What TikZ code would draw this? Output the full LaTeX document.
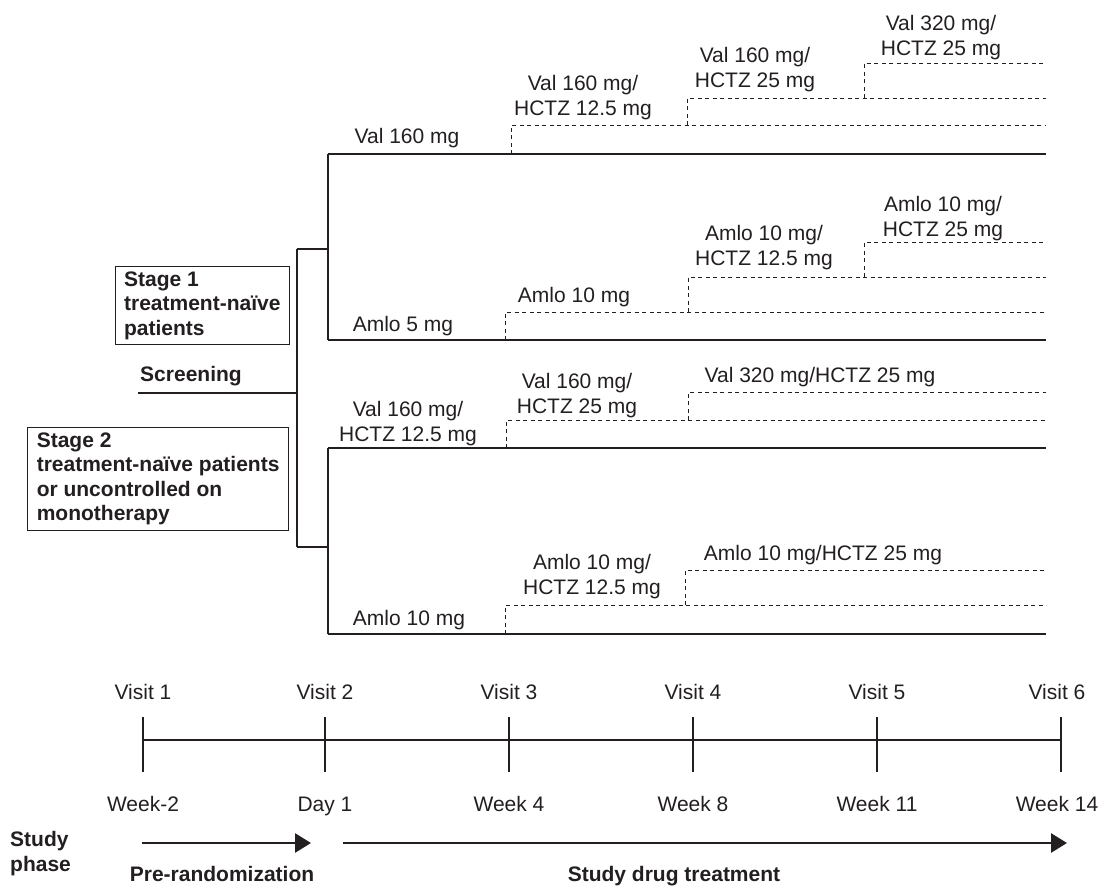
\documentclass[tikz,border=0pt]{standalone}
\usepackage{fontspec}
\setmainfont{Liberation Sans}
\usepackage{xcolor}
\usetikzlibrary{arrows.meta}
\definecolor{ink}{RGB}{35,31,32}
\tikzset{
  txt/.style={text=ink, inner sep=0pt, align=center, font=\fontsize{21}{25}\selectfont},
  btxt/.style={txt, font=\fontsize{21}{25}\selectfont\bfseries},
  stagebox/.style={draw=ink, line width=1pt, text=ink, align=left, inner xsep=9pt, inner ysep=5pt, font=\fontsize{21}{24.5}\selectfont\bfseries},
  arm/.style={draw=ink, line width=1.2pt},
  dose/.style={draw=ink, line width=1pt, dash pattern=on 4pt off 3.5pt},
  phase/.style={draw=ink, line width=2.8pt, -{Triangle[length=16pt,width=19pt]}}
}
\begin{document}
\begin{tikzpicture}[x=1pt,y=-1pt]
\useasboundingbox (0,0) rectangle (1099,886);

\coordinate (scr) at (138,393);
\coordinate (fork) at (297,393);
\coordinate (forktop) at (297,249);
\coordinate (forkbot) at (297,547);
\coordinate (s1mid) at (328,249);
\coordinate (s2mid) at (328,547);
\foreach \n/\y in {val/154, amlo5/340, combo/448, amlo10/634} {
  \coordinate (\n) at (328,\y);
  \coordinate (\n end) at (1046,\y);
}
\draw[arm] (scr) -- (fork) (forktop) -- (forkbot) (forktop) -- (s1mid) (forkbot) -- (s2mid)
  (val) -- (amlo5) (combo) -- (amlo10);
\foreach \n in {val, amlo5, combo, amlo10} \draw[arm] (\n) -- (\n end);

\foreach \x/\ya/\yb in {511/154/125, 687/125/98, 864/98/63, 505/340/312, 688/312/277, 864/277/242,
  506/448/420, 688/420/392, 505/634/605, 685/605/570} {
  \coordinate (up) at (\x,\ya);
  \coordinate (step) at (\x,\yb);
  \coordinate (stepend) at (1046,\yb);
  \draw[dose] (up) -- (step) -- (stepend);
}

\node[txt, anchor=south] (val160) at (407,148) {Val 160 mg};
\node[txt, anchor=south] (val160h12) at (583,120) {Val 160 mg/\\HCTZ 12.5 mg};
\node[txt, anchor=south] (val160h25) at (755,92) {Val 160 mg/\\HCTZ 25 mg};
\node[txt, anchor=south] (val320h25) at (941,60) {Val 320 mg/\\HCTZ 25 mg};

\node[txt, anchor=south] (amlo5mg) at (403,336) {Amlo 5 mg};
\node[txt, anchor=south] (amlo10mg) at (574,307) {Amlo 10 mg};
\node[txt, anchor=south] (amlo10h12) at (764,270) {Amlo 10 mg/\\HCTZ 12.5 mg};
\node[txt, anchor=south] (amlo10h25) at (943,241) {Amlo 10 mg/\\HCTZ 25 mg};

\node[txt, anchor=south] (comboA) at (408,446) {Val 160 mg/\\HCTZ 12.5 mg};
\node[txt, anchor=south] (comboB) at (577,418) {Val 160 mg/\\HCTZ 25 mg};
\node[txt, anchor=south] (comboC) at (820,387) {Val 320 mg/HCTZ 25 mg};

\node[txt, anchor=south] (amloA) at (409,630) {Amlo 10 mg};
\node[txt, anchor=south] (amloB) at (592,599) {Amlo 10 mg/\\HCTZ 12.5 mg};
\node[txt, anchor=south] (amloC) at (823,565) {Amlo 10 mg/HCTZ 25 mg};

\node[stagebox, anchor=north east] (stage1) at (290,266) {Stage 1\\treatment-naïve\\patients};
\node[btxt, anchor=base] (screening) at (191,381) {Screening};
\node[stagebox, anchor=north east] (stage2) at (289,427) {Stage 2\\treatment-naïve patients\\or uncontrolled on\\monotherapy};

\foreach \x/\v/\w/\lx [count=\i] in {143/Visit 1/Week-2/143, 325/Visit 2/Day 1/325, 509/Visit 3/Week 4/509,
  693/Visit 4/Week 8/693, 877/Visit 5/Week 11/877, 1061/Visit 6/Week 14/1057} {
  \coordinate (v\i) at (\x,740);
  \draw[arm] ([yshift=23pt]v\i) -- ([yshift=-32pt]v\i);
  \node[txt, anchor=base] (visit\i) at (\lx,699) {\v};
  \node[txt, anchor=base] (week\i) at (\lx,811) {\w};
}
\draw[arm] (v1) -- (v6);

\node[btxt, align=left, anchor=south west] (study) at (10,876) {Study\\phase};
\coordinate (prestart) at (142,843);
\coordinate (preend) at (311,843);
\coordinate (drugstart) at (343,843);
\coordinate (drugend) at (1067,843);
\draw[phase] (prestart) -- (preend);
\draw[phase] (drugstart) -- (drugend);
\node[btxt, anchor=base] (prerand) at (222,881) {Pre-randomization};
\node[btxt, anchor=base] (drugtreat) at (674,881) {Study drug treatment};
\end{tikzpicture}
\end{document}
